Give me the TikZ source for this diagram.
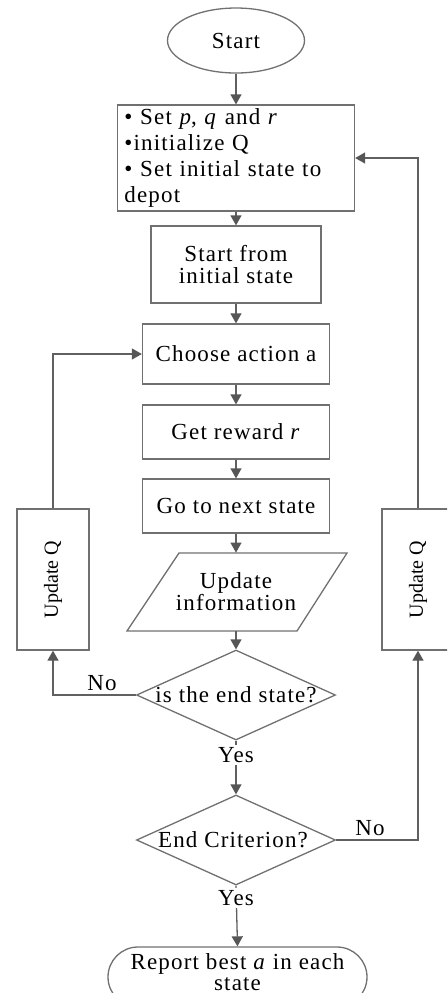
\documentclass[tikz,border=0pt]{standalone}
\usepackage{fontspec}
\setmainfont[LetterSpace=5]{Liberation Serif}
\newfontfamily\qfont{Liberation Serif}
\usetikzlibrary{shapes.geometric,arrows.meta}
\definecolor{linegray}{HTML}{606060}
\definecolor{shapegray}{HTML}{707070}
\begin{document}
\begin{tikzpicture}[x=0.5pt,y=-0.5pt,
  every node/.style={font=\fontsize{11.5}{11}\selectfont, text=black},
  shp/.style={draw=shapegray, line width=0.65pt},
  box/.style={shp, rectangle, inner sep=0pt, align=center},
  dia/.style={shp, diamond, inner sep=0pt, minimum width=99.5pt, minimum height=45pt},
  conn/.style={draw=linegray, line width=0.65pt},
  arr/.style={conn, -{Triangle[length=5pt,width=5.5pt,color=linegray!90!black]}},
  lbl/.style={fill=white, inner sep=1pt}]
\useasboundingbox (0,0) rectangle (447,993);
\clip (0,0) rectangle (447,993);
% nodes
\node[shp, ellipse, inner sep=0pt, minimum width=68.5pt, minimum height=32.5pt] (start) at (236,40.5) {Start};
\node[box, minimum width=118.5pt, minimum height=53pt, text width=111.5pt, inner xsep=3.5pt, align=left,
      font=\fontsize{11.5}{13}\selectfont] (b1) at (236,158)
  {\textbullet\ Set \textit{p}, \textit{q} and \textit{r}\\\textbullet initialize Q\\\textbullet\ Set initial state to\\depot};
\node[box, minimum width=85pt, minimum height=38.5pt] (b2) at (236,264.5) {Start from\\initial state};
\node[box, minimum width=93.5pt, minimum height=30pt] (b3) at (236,354) {Choose action a};
\node[box, minimum width=93.5pt, minimum height=27pt] (b4) at (236,432) {Get reward \textit{r}};
\node[box, minimum width=93.5pt, minimum height=27pt] (b5) at (236,506) {Go to next state};
\draw[shp] (179,553) -- (347,553) -- (297,631) -- (127,631) -- cycle;
\node[rectangle, inner sep=0pt, minimum height=39pt, align=center] (upd) at (236,592) {Update\\information};
\node[dia, label={center:is the end state?}] (d1) at (236,695) {};
\node[dia, label={[xshift=-1.5pt]center:End Criterion?}] (d2) at (236,840) {};
\node[box, minimum width=36pt, minimum height=70.5pt] (lq) at (53,579.5) {};
\node[rotate=90, font=\qfont\fontsize{10}{12}\selectfont] (lqt) at (lq.center) {Update Q};
\node[box, minimum width=36pt, minimum height=70.5pt] (rq) at (418,579.5) {};
\node[rotate=90, font=\qfont\fontsize{10}{12}\selectfont] (rqt) at (rq.center) {Update Q};
\node[shp, rectangle, rounded corners=15pt, inner sep=0pt, minimum width=129.5pt, minimum height=30pt,
      label={[yshift=2.3pt, align=center, font=\fontsize{11.5}{10.5}\selectfont]center:Report best \textit{a} in each\\state}] (end) at (237.5,977) {};
% connectors
\draw[arr] (start.south) -- (b1.north);
\draw[arr] (b1.south) -- (b2.north);
\draw[arr] (b2.south) -- (b3.north);
\draw[arr] (b3.south) -- (b4.north);
\draw[arr] (b4.south) -- (b5.north);
\draw[arr] (b5.south) -- (upd.north);
\draw[arr] (upd.south) -- (d1.north);
\draw[arr] (d1.south) -- (d2.north);
\draw[arr] (d2.south) -- (end.north);
\draw[arr] (d1.west) -| (lq.south);
\draw[arr] (lq.north) |- (b3.west);
\draw[arr] (d2.east) -| (rq.south);
\draw[arr] (rq.north) |- (b1.east);
% labels
\node[lbl] (yes1) at (236,755) {Yes};
\node[lbl] (yes2) at (236,898) {Yes};
\node (no1) at (102,683) {No};
\node (no2) at (370,828) {No};
\end{tikzpicture}
\end{document}
